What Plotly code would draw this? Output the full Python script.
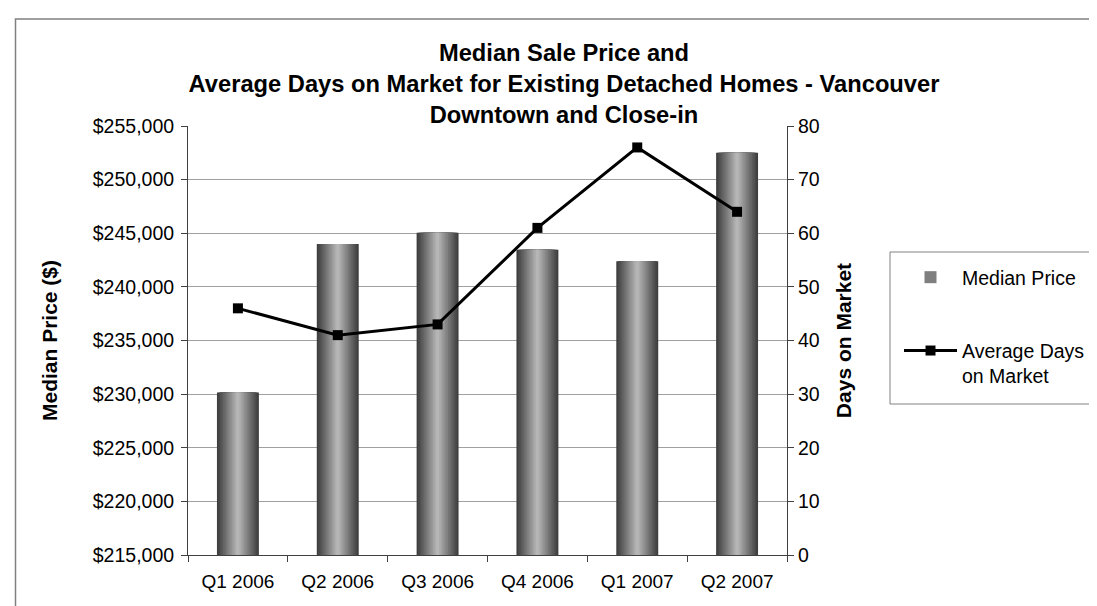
import plotly.graph_objects as go

quarters = ["Q1 2006", "Q2 2006", "Q3 2006", "Q4 2006", "Q1 2007", "Q2 2007"]
median_price = [230150, 244000, 245050, 243450, 242400, 252500]
avg_days = [46, 41, 43, 61, 76, 64]

FONT = "Liberation Sans, Arial, sans-serif"

W, H = 1097, 606
L, R, T, B = 180, 779, 118, 547   # plot area in pixels

fig = go.Figure()

# Bars with a horizontal "cylinder" gradient built from nested overlaid bars
N = 14
bar_w = 0.42
dark = (62, 62, 62)
light = (182, 182, 182)
for i in range(N):
    t = i / (N - 1)
    c = tuple(int(round(dark[k] + (light[k] - dark[k]) * t)) for k in range(3))
    fig.add_trace(go.Bar(
        x=quarters, y=median_price,
        width=bar_w * (1 - i / N),
        marker=dict(color="rgb(%d,%d,%d)" % c, line=dict(width=0)),
        name="Median Price",
        legendgroup="price",
        showlegend=(i == N // 2),
        yaxis="y",
    ))

fig.add_trace(go.Scatter(
    x=quarters, y=avg_days,
    mode="lines+markers",
    line=dict(color="black", width=3),
    marker=dict(symbol="square", size=10, color="black"),
    name="Average Days<br>on Market",
    legendgroup="days",
    yaxis="y2",
))

pw, ph = R - L, B - T

fig.update_layout(
    width=W, height=H,
    margin=dict(l=L, r=W - R, t=T, b=H - B, autoexpand=False),
    paper_bgcolor="white", plot_bgcolor="white",
    barmode="overlay",
    font=dict(family=FONT, size=19, color="black"),
    title=dict(
        text="<b>Median Sale Price and<br>Average Days on Market for Existing Detached Homes - Vancouver<br>Downtown and Close-in</b>",
        font=dict(family=FONT, size=23.7, color="black"),
        x=556 / W, xanchor="center", xref="container",
        y=1 - 53 / H, yanchor="top", yref="container",
    ),
    xaxis=dict(
        type="category",
        showline=True, linecolor="#404040", linewidth=1,
        ticks="outside", tickson="boundaries", ticklen=6, tickcolor="#404040",
        showgrid=False,
        tickfont=dict(size=19),
        ticklabelstandoff=9,
    ),
    yaxis=dict(
        range=[215000, 255000], dtick=5000, tick0=215000,
        tickformat="$,.0f",
        showline=True, linecolor="#404040", linewidth=1,
        ticks="outside", ticklen=6, tickcolor="#404040",
        showgrid=True, gridcolor="#a0a0a0", gridwidth=1,
        zeroline=False,
        title=dict(text="<b>Median Price ($)</b>", font=dict(size=21), standoff=29),
        tickfont=dict(size=19.5),
        ticklabelstandoff=3,
    ),
    yaxis2=dict(
        range=[0, 80], dtick=10, tick0=0,
        overlaying="y", side="right",
        showline=True, linecolor="#404040", linewidth=1,
        ticks="outside", ticklen=6, tickcolor="#404040",
        showgrid=False, zeroline=False,
        title=dict(text="<b>Days on Market</b>", font=dict(size=21), standoff=17),
        tickfont=dict(size=19.5),
    ),
    legend=dict(
        x=(891 - L) / pw, y=(B - 250) / ph, xanchor="left", yanchor="top",
        borderwidth=0, bgcolor="rgba(0,0,0,0)",
        font=dict(size=19.5),
        traceorder="grouped", tracegroupgap=45,
        valign="top", itemwidth=53,
    ),
    shapes=[
        dict(
            type="rect", xref="paper", yref="paper",
            x0=(7.5 - L) / pw, x1=(1115 - L) / pw,
            y0=(B - 620) / ph, y1=(B - 11) / ph,
            line=dict(color="#808080", width=1.5), fillcolor="rgba(0,0,0,0)",
            layer="below",
        ),
        dict(
            type="rect", xref="paper", yref="paper",
            x0=(882 - L) / pw, x1=(1092 - L) / pw,
            y0=(B - 396) / ph, y1=(B - 244) / ph,
            line=dict(color="#808080", width=1), fillcolor="rgba(0,0,0,0)",
            layer="below",
        ),
    ],
    hovermode="closest",
)

fig.write_html("out.html")
